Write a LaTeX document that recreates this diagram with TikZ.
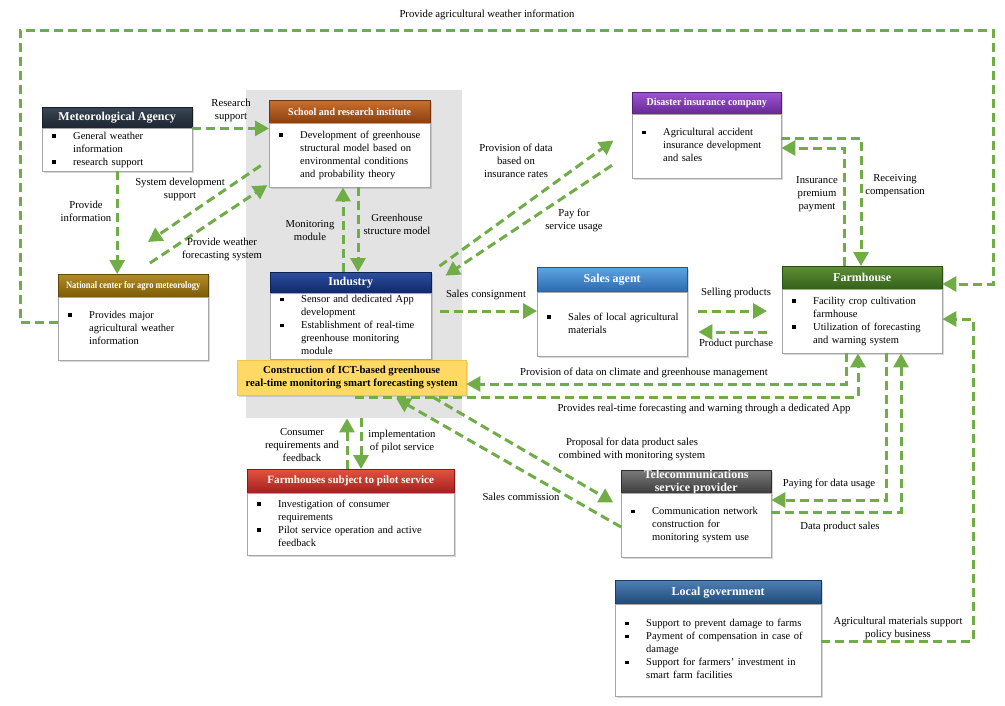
\documentclass[tikz,border=0pt]{standalone}
\usepackage{fontspec}
\setmainfont{Liberation Serif}
\usepackage{graphicx}
\usetikzlibrary{arrows.meta,shadows,calc}
\definecolor{agreen}{HTML}{70AD47}
\definecolor{metT}{HTML}{3A4654}\definecolor{metD}{HTML}{1C2530}
\definecolor{schT}{HTML}{C8702F}\definecolor{schD}{HTML}{8A3F10}
\definecolor{disT}{HTML}{9D55D4}\definecolor{disD}{HTML}{652892}
\definecolor{farT}{HTML}{5E8F35}\definecolor{farD}{HTML}{33601A}
\definecolor{natT}{HTML}{B48C22}\definecolor{natD}{HTML}{7A5A08}
\definecolor{indT}{HTML}{2D4F9E}\definecolor{indD}{HTML}{0F2868}
\definecolor{salT}{HTML}{5EA4E2}\definecolor{salD}{HTML}{2A68AE}
\definecolor{pilT}{HTML}{E2533F}\definecolor{pilD}{HTML}{A51F1F}
\definecolor{telT}{HTML}{7A7A7A}\definecolor{telD}{HTML}{3A3A3A}
\definecolor{govT}{HTML}{4F7FB5}\definecolor{govD}{HTML}{1F4A7A}
\definecolor{yelF}{HTML}{FFD966}\definecolor{yelD}{HTML}{F2C447}
\newcommand\sq{\rule[1.8pt]{3.3pt}{3.3pt}}
\newcommand\blist[1]{\noindent\begin{tabular}{@{}p{21pt}@{}l@{}}#1\end{tabular}}
\newcommand\hfont{\bfseries\fontsize{12}{13}\selectfont}
\newcommand\bfnt{\fontsize{10.5}{13}\selectfont}
\newcommand\lfnt{\fontsize{10.7}{13}\selectfont}
\begin{document}
\begin{tikzpicture}[x=1pt,y=-1pt,
  shd/.style={drop shadow={shadow xshift=1.5pt,shadow yshift=-1.5pt,opacity=.3}},
  hdr/.style n args={2}{anchor=north west, inner sep=0pt, text=white, align=center,
     top color=#1, bottom color=#2, draw=#2!80!black, font=\hfont, shd},
  body/.style={anchor=north west, draw=gray!70, fill=white, inner xsep=10pt, inner ysep=0pt,
     align=left, font=\bfnt, shd},
  conn/.style={draw=agreen, line width=3pt, dash pattern=on 9pt off 5pt},
  arr/.style={conn, -{Triangle[length=14pt,width=15pt]}},
  lbl/.style={font=\lfnt, align=center, inner sep=1pt}
]
\useasboundingbox (0,0) rectangle (1005,705);
\fill[white] (0,0) rectangle (1005,705);

% gray group region
\node[fill=gray!22, anchor=north west, minimum width=216pt, minimum height=328pt, inner sep=0pt] (grp) at (246,90) {};

% Meteorological Agency
\node[hdr={metT}{metD}, minimum width=150pt, minimum height=21pt] (metH) at (42,107) {Meteorological Agency};
\node[body, minimum width=150pt, text width=130pt, minimum height=43pt] (metB) at (42,128)
  {\blist{\sq & General weather\\ & information\\ \sq & research support}};

% School and research institute
\node[hdr={schT}{schD}, minimum width=161pt, minimum height=23pt] (schH) at (269,100) {\scalebox{0.95}[1]{\fontsize{10.5}{12}\selectfont School and research institute}};
\node[body, minimum width=161pt, text width=141pt, minimum height=64pt] (schB) at (269,123)
  {\blist{\sq & Development of greenhouse\\ & structural model based on\\ & environmental conditions\\ & and probability theory}};

% Disaster insurance company
\node[hdr={disT}{disD}, minimum width=149pt, minimum height=22pt] (disH) at (632,92) {\scalebox{0.95}[1]{\fontsize{10.5}{12}\selectfont Disaster insurance company}};
\node[body, minimum width=149pt, text width=129pt, minimum height=64pt] (disB) at (632,114)
  {\blist{\sq & Agricultural accident\\ & insurance development\\ & and sales}};

% Farmhouse
\node[hdr={farT}{farD}, minimum width=160pt, minimum height=23pt] (farmH) at (782,266) {Farmhouse};
\node[body, minimum width=160pt, text width=140pt, minimum height=64pt] (farmB) at (782,289)
  {\blist{\sq & Facility crop cultivation\\ & farmhouse\\ \sq & Utilization of forecasting\\ & and warning system}};

% National center for agro meteorology
\node[hdr={natT}{natD}, minimum width=150pt, minimum height=23pt] (natH) at (58,274) {\scalebox{0.85}[1]{\fontsize{10}{12}\selectfont National center for agro meteorology}};
\node[body, minimum width=150pt, text width=130pt, minimum height=63pt] (natB) at (58,297)
  {\blist{\sq & Provides major\\ & agricultural weather\\ & information}};

% Industry
\node[hdr={indT}{indD}, minimum width=161pt, minimum height=21pt] (indH) at (270,272) {Industry};
\node[body, minimum width=161pt, text width=141pt, minimum height=66pt] (indB) at (270,293)
  {\blist{\sq & Sensor and dedicated App\\ & development\\ \sq & Establishment of real-time\\ & greenhouse monitoring\\ & module}};

% Yellow system box
\node[anchor=north west, fill=yelF, draw=yelD, minimum width=229pt, minimum height=35pt, inner sep=0pt,
      align=center, font=\bfseries\fontsize{10.75}{13}\selectfont, shd] (yel) at (237,360)
  {Construction of ICT-based greenhouse\\real-time monitoring smart forecasting system};

% Sales agent
\node[hdr={salT}{salD}, minimum width=150pt, minimum height=25pt] (salH) at (537,267) {Sales agent};
\node[body, minimum width=150pt, text width=130pt, minimum height=64pt] (salB) at (537,292)
  {\blist{\sq & Sales of local agricultural\\ & materials}};

% Farmhouses subject to pilot service
\node[hdr={pilT}{pilD}, minimum width=207pt, minimum height=24pt] (pilH) at (247,469) {\fontsize{11.1}{12}\selectfont Farmhouses subject to pilot service};
\node[body, minimum width=207pt, text width=187pt, minimum height=62pt] (pilB) at (247,493)
  {\blist{\sq & Investigation of consumer\\ & requirements\\ \sq & Pilot service operation and active\\ & feedback}};

% Telecommunications service provider
\node[hdr={telT}{telD}, minimum width=150pt, minimum height=23pt] (telH) at (621,470) {\fontsize{12}{14}\selectfont Telecommunications\\service provider};
\node[body, minimum width=150pt, text width=130pt, minimum height=64pt] (telB) at (621,493)
  {\blist{\sq & Communication network\\ & construction for\\ & monitoring system use}};

% Local government
\node[hdr={govT}{govD}, minimum width=206pt, minimum height=24pt] (govH) at (615,580) {Local government};
\node[body, minimum width=206pt, text width=186pt, minimum height=92pt] (govB) at (615,604)
  {\blist{\sq & Support to prevent damage to farms\\ \sq & Payment of compensation in case of\\ & damage\\ \sq & Support for farmers’ investment in\\ & smart farm facilities}};

% free ends
\coordinate (sdEnd) at (148,242);
\coordinate (pwStart) at (150,263);

% ---------- connectors ----------
\draw[arr] (natB.west |- 0,322) -- (20,322) -- (20,30) -- (993,30) -- (993,284) -- (farmH.east |- 0,284);
\draw[arr] (metH.south east) -- (schB.west |- metH.south east);
\draw[arr] (metB.south) -- (metB.south |- natH.north);
\draw[arr, shorten <=10pt] (schB.west |- 0,160) -- (sdEnd);
\draw[arr, shorten >=2pt] (pwStart) -- (schB.west |- 0,184);
\draw[arr] (343,0 |- indH.north) -- (343,0 |- schB.south);
\draw[arr] (358,0 |- schB.south) -- (358,0 |- indH.north);
\draw[arr, shorten <=10pt, shorten >=23pt] (indH.north east) -- (disB.west |- 0,127);
\draw[arr, shorten <=24pt, shorten >=17pt] (disB.west |- 0,152) -- (indH.east |- 0,285);
\draw[arr, shorten <=9pt] (indB.east |- 0,311) -- (salB.west |- 0,311);
\draw[arr, shorten <=11pt, shorten >=15pt] (salB.east |- 0,311) -- (farmB.west |- 0,311);
\draw[arr, shorten <=15pt, shorten >=11pt] (farmB.west |- 0,332) -- (salB.east |- 0,332);
\draw[arr] (846,0 |- farmB.south) -- (846,384) -- (yel.east |- 0,384);
\draw[arr] ([xshift=118pt,yshift=-2pt]yel.south west) -| (858,0 |- farmB.south);
\draw[arr] (844,0 |- farmH.north) -- (844,148) -- (disB.east |- 0,148);
\draw[arr] (disB.east |- 0,138) -- (861,138) -- (861,0 |- farmH.north);
\draw[arr] (886,0 |- farmB.south) -- (886,500) -- (telB.east |- 0,500);
\draw[arr] (telB.east |- 0,512) -- (901,512) -- (901,0 |- farmB.south);
\draw[arr] (govB.east |- 0,641) -- (973,641) -- (973,319) -- (farmB.east |- 0,319);
\draw[arr] (347,0 |- pilH.north) -- (347,0 |- grp.south);
\draw[arr] (361,0 |- grp.south) -- (361,0 |- pilH.north);
\draw[arr, shorten <=3pt, shorten >=9pt] (430,0 |- yel.south) -- (telB.west |- 0,507);
\draw[arr, shorten >=6pt] (telB.west |- 0,527) -- (391,0 |- yel.south);

% ---------- labels ----------
\node[lbl] (l1) at (487,15) {Provide agricultural weather information};
\node[lbl] (l2) at (231,110) {Research\\support};
\node[lbl] (l3) at (86,211) {Provide\\information};
\node[lbl] (l4) at (180,189) {System development\\support};
\node[lbl] (l5) at (222,249) {Provide weather\\forecasting system};
\node[lbl] (l6) at (310,231) {Monitoring\\module};
\node[lbl] (l7) at (397,224) {Greenhouse\\structure model};
\node[lbl] (l8) at (516,161) {Provision of data\\based on\\insurance rates};
\node[lbl] (l9) at (574,220) {Pay for\\service usage};
\node[lbl] (l10) at (817,194) {Insurance\\premium\\payment};
\node[lbl] (l11) at (895,186) {Receiving\\compensation};
\node[lbl] (l12) at (486,295) {Sales consignment};
\node[lbl] (l13) at (736,293) {Selling products};
\node[lbl] (l14) at (736,344) {Product purchase};
\node[lbl] (l15) at (644,373) {Provision of data on climate and greenhouse management};
\node[lbl] (l16) at (704,409) {Provides real-time forecasting and warning through a dedicated App};
\node[lbl] (l17) at (302,445) {Consumer\\requirements and\\feedback};
\node[lbl] (l18) at (402,441) {implementation\\of pilot service};
\node[lbl] (l19) at (632,449) {Proposal for data product sales\\combined with monitoring system};
\node[lbl] (l20) at (521,497) {Sales commission};
\node[lbl] (l21) at (829,484) {Paying for data usage};
\node[lbl] (l22) at (840,527) {Data product sales};
\node[lbl] (l23) at (898,628) {Agricultural materials support\\policy business};
\end{tikzpicture}
\end{document}
